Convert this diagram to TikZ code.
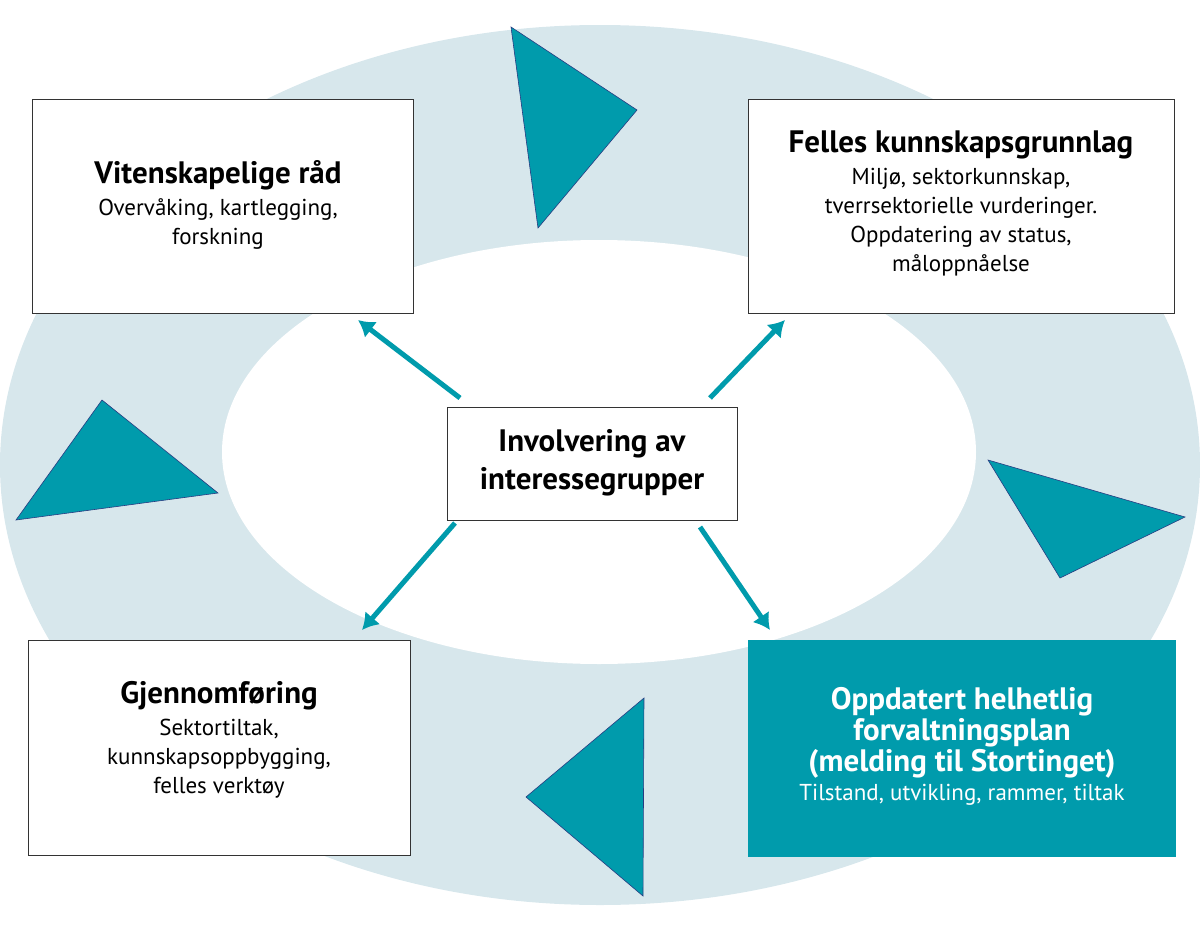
\documentclass[tikz,border=0pt]{standalone}
\usepackage{fontspec}
\usetikzlibrary{arrows.meta}
\setmainfont{PT Sans}
\definecolor{teal1}{RGB}{0,155,172}
\definecolor{ring}{RGB}{215,231,236}
\definecolor{tedge}{RGB}{40,60,130}
\newcommand{\ttlf}{\fontsize{31}{36}\selectfont\bfseries}
\begin{document}
\begin{tikzpicture}[x=1pt,y=-1pt,
 box/.style={draw=black!80,line width=0.8pt,fill=white},
 tri/.style={fill=teal1,draw=tedge,line width=0.6pt},
 arr/.style={draw=teal1,line width=5pt,-{Latex[length=16pt,width=20pt]}},
 txt/.style={align=center,font=\fontsize{23}{29}\selectfont}]
\useasboundingbox (0,0) rectangle (1200,926);
\fill[ring] (600,465) ellipse [x radius=600, y radius=440];
\fill[white] (599,452) ellipse [x radius=377, y radius=212];
\draw[tri] (511,27)--(637,110)--(538,228)--cycle;
\draw[tri] (988,460)--(1185,517)--(1060,578)--cycle;
\draw[tri] (644,698)--(526,797)--(643,896)--cycle;
\draw[tri] (102,400)--(218,493)--(16,520)--cycle;
\draw[box] (32,99) rectangle (413,313);
\node[txt] (v) at (218,205) {{\ttlf Vitenskapelige råd}\\[3pt]Overvåking, kartlegging,\\forskning};
\draw[box] (748,99) rectangle (1174,313);
\node[txt] (f) at (961,203) {{\ttlf Felles kunnskapsgrunnlag}\\[3pt]Miljø, sektorkunnskap,\\tverrsektorielle vurderinger.\\Oppdatering av status,\\måloppnåelse};
\draw[box] (447,407) rectangle (737,520);
\node[txt,font=\ttlf] (c) at (592,463) {Involvering av\\[2pt]interessegrupper};
\draw[box] (28,640) rectangle (410,855);
\node[txt] (g) at (219,740) {{\ttlf Gjennomføring}\\[3pt]Sektortiltak,\\kunnskapsoppbygging,\\felles verktøy};
\fill[teal1] (748,640) rectangle (1176,857);
\node[txt,text=white] (o) at (962,746) {{\ttlf Oppdatert helhetlig}\\[2pt]{\ttlf forvaltningsplan}\\[2pt]{\ttlf (melding til Stortinget)}\\Tilstand, utvikling, rammer, tiltak};
\coordinate (a1) at (460,398); \coordinate (b1) at (358,320);
\coordinate (a2) at (710,398); \coordinate (b2) at (785,320);
\coordinate (a3) at (455,523); \coordinate (b3) at (362,630);
\coordinate (a4) at (700,527); \coordinate (b4) at (770,630);
\draw[arr] (a1)--(b1); \draw[arr] (a2)--(b2);
\draw[arr] (a3)--(b3); \draw[arr] (a4)--(b4);
\end{tikzpicture}
\end{document}
